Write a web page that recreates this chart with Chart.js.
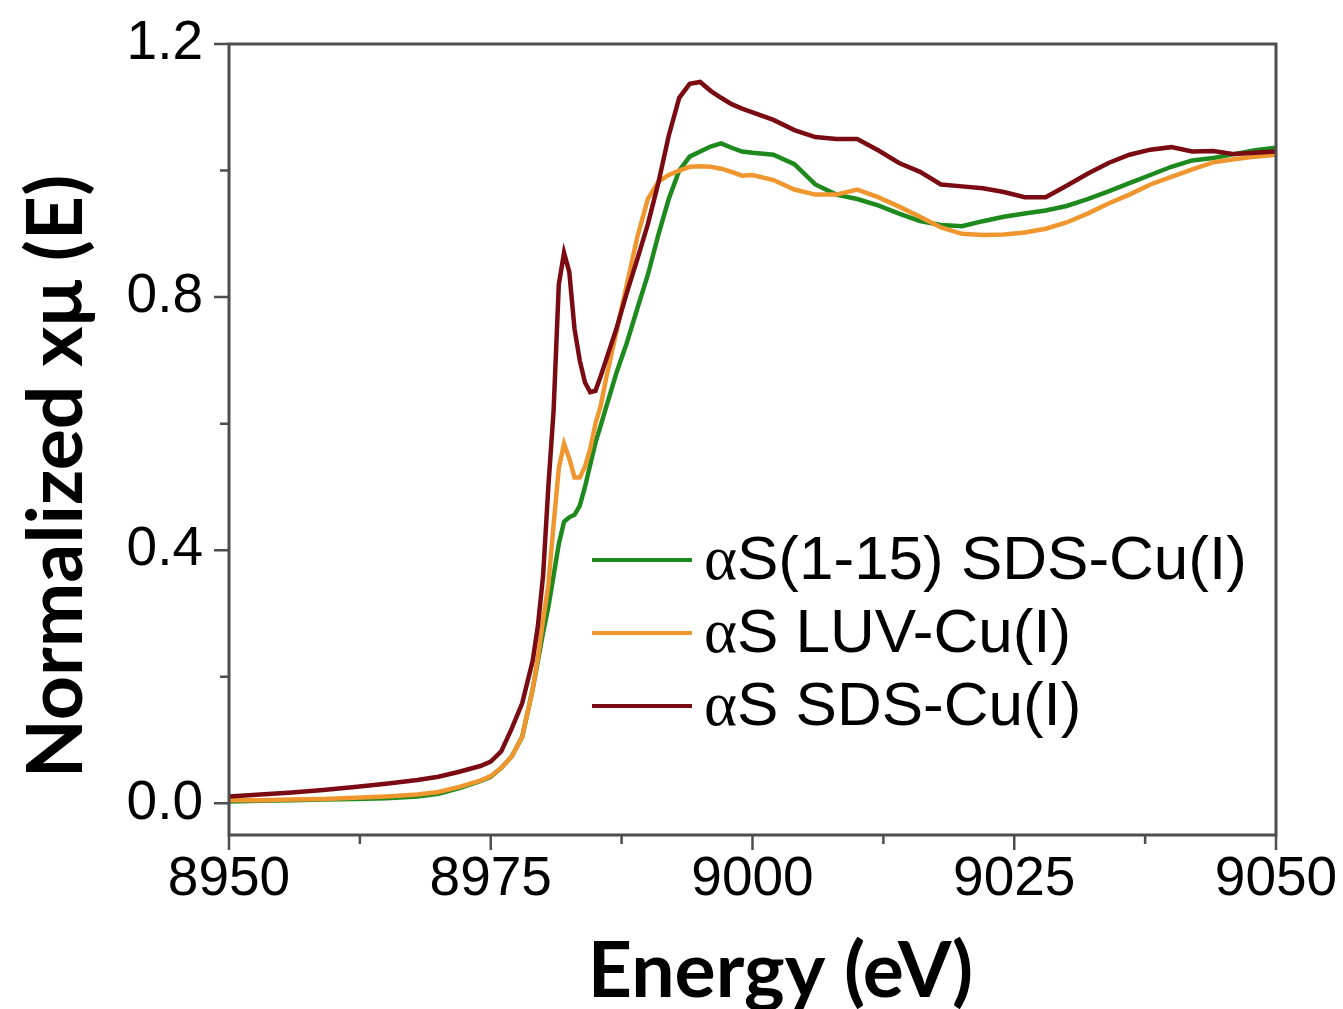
<!DOCTYPE html>
<html>
<head>
<meta charset="utf-8">
<script src="https://cdn.jsdelivr.net/npm/chart.js@4.4.1/dist/chart.umd.min.js"></script>
<style>
  html, body { margin: 0; padding: 0; background: #fff; }
  #wrap { width: 1343px; height: 1009px; }
</style>
</head>
<body>
<div id="wrap"><canvas id="xas"></canvas></div>
<script>
/* =========================
   Data
========================= */

const energy = [
  8950, 8953, 8956, 8959, 8962, 8965, 8968, 8970, 8972, 8974, 8975, 8976, 8977, 8978,
  8979, 8979.5, 8980, 8980.5, 8981, 8981.5, 8982, 8982.5, 8983, 8983.5, 8984, 8984.5,
  8985, 8985.5, 8986, 8987, 8988, 8989, 8990, 8991, 8992, 8993, 8994, 8995, 8996, 8997,
  8998, 8999, 9000, 9002, 9004, 9006, 9008, 9010, 9012, 9014, 9016, 9018, 9020, 9022,
  9024, 9026, 9028, 9030, 9032, 9034, 9036, 9038, 9040, 9042, 9044, 9046, 9048, 9050
];

const sds115 = [
  0.003, 0.004, 0.005, 0.006, 0.007, 0.008, 0.011, 0.015, 0.024, 0.035, 0.042, 0.056, 0.074, 0.105,
  0.180, 0.225, 0.270, 0.310, 0.360, 0.410, 0.445, 0.452, 0.456, 0.470, 0.500, 0.535,
  0.570, 0.597, 0.625, 0.680, 0.728, 0.782, 0.835, 0.898, 0.955, 1.000, 1.022, 1.030, 1.038, 1.043,
  1.036, 1.030, 1.028, 1.025, 1.010, 0.978, 0.962, 0.955, 0.945, 0.932, 0.920, 0.914, 0.912, 0.920,
  0.927, 0.932, 0.937, 0.944, 0.955, 0.967, 0.980, 0.993, 1.006, 1.016, 1.020, 1.026, 1.032, 1.036
];

const luv = [
  0.005, 0.005, 0.006, 0.007, 0.009, 0.011, 0.014, 0.018, 0.026, 0.036, 0.043, 0.056, 0.074, 0.105,
  0.180, 0.230, 0.290, 0.345, 0.440, 0.530, 0.568, 0.545, 0.515, 0.515, 0.532, 0.560,
  0.600, 0.628, 0.670, 0.745, 0.820, 0.895, 0.955, 0.982, 0.993, 1.000, 1.006, 1.007, 1.006, 1.003,
  0.998, 0.992, 0.993, 0.985, 0.970, 0.962, 0.962, 0.970, 0.958, 0.943, 0.927, 0.910, 0.900, 0.898,
  0.899, 0.902, 0.908, 0.918, 0.932, 0.948, 0.962, 0.978, 0.990, 1.002, 1.013, 1.018, 1.022, 1.025
];

const sds = [
  0.011, 0.014, 0.017, 0.021, 0.026, 0.031, 0.037, 0.042, 0.050, 0.059, 0.066, 0.082, 0.118, 0.158,
  0.225, 0.280, 0.360, 0.500, 0.620, 0.820, 0.870, 0.840, 0.750, 0.700, 0.665, 0.650,
  0.652, 0.675, 0.700, 0.750, 0.807, 0.860, 0.915, 0.980, 1.055, 1.115, 1.137, 1.140, 1.126, 1.115,
  1.105, 1.098, 1.092, 1.080, 1.064, 1.053, 1.050, 1.050, 1.032, 1.012, 0.998, 0.978, 0.975, 0.972,
  0.966, 0.958, 0.958, 0.976, 0.995, 1.012, 1.025, 1.033, 1.037, 1.030, 1.031, 1.026, 1.028, 1.030
];

const seriesNames = ["\u03B1S(1-15) SDS-Cu(I)", "\u03B1S LUV-Cu(I)", "\u03B1S SDS-Cu(I)"];
const seriesColors = ["#1e8a1e", "#f0962e", "#7a0b12"];

const xTicks = [8950, 8975, 9000, 9025, 9050];
const xMinor = [8962.5, 8987.5, 9012.5, 9037.5];
const yTicks = [0, 0.4, 0.8, 1.2];
const yMinor = [0.2, 0.6, 1.0];

/* =========================
   Helpers
========================= */

function points(values) {
  return energy.map((e, i) => ({ x: e, y: values[i] }));
}

const AXIS_COLOR = "#4d4d4d";

// frame, outward ticks, titles and legend
const decorPlugin = {
  id: "decor",
  afterDraw(chart) {
    const { ctx, chartArea: a, scales } = chart;
    const xs = scales.x, ys = scales.y;

    ctx.save();
    ctx.strokeStyle = AXIS_COLOR;
    ctx.lineWidth = 3;
    ctx.strokeRect(a.left, a.top, a.right - a.left, a.bottom - a.top);

    ctx.lineWidth = 2.5;
    ctx.beginPath();
    xTicks.forEach(v => { const p = xs.getPixelForValue(v); ctx.moveTo(p, a.bottom); ctx.lineTo(p, a.bottom + 15); });
    xMinor.forEach(v => { const p = xs.getPixelForValue(v); ctx.moveTo(p, a.bottom); ctx.lineTo(p, a.bottom + 9); });
    yTicks.forEach(v => { const p = ys.getPixelForValue(v); ctx.moveTo(a.left, p); ctx.lineTo(a.left - 15, p); });
    yMinor.forEach(v => { const p = ys.getPixelForValue(v); ctx.moveTo(a.left, p); ctx.lineTo(a.left - 9, p); });
    ctx.stroke();

    // axis titles
    ctx.fillStyle = "#000";
    ctx.font = "bold 77px Lato";
    ctx.textAlign = "center";
    ctx.textBaseline = "alphabetic";
    ctx.fillText("Energy (eV)", (a.left + a.right) / 2 + 28, 997);

    ctx.save();
    ctx.translate(82, (a.top + a.bottom) / 2 + 37);
    ctx.rotate(-Math.PI / 2);
    ctx.fillText("Normalized x\u03BC (E)", 0, 0);
    ctx.restore();

    // legend
    const lx = a.left + 363;
    seriesNames.forEach((name, i) => {
      const ly = a.top + 516 + i * 73;
      ctx.strokeStyle = seriesColors[i];
      ctx.lineWidth = 4;
      ctx.beginPath();
      ctx.moveTo(lx, ly);
      ctx.lineTo(lx + 100, ly);
      ctx.stroke();

      ctx.fillStyle = "#000";
      ctx.textAlign = "left";
      ctx.textBaseline = "middle";
      ctx.font = "63px 'Liberation Serif'";
      const alpha = name[0];
      ctx.fillText(alpha, lx + 112, ly + 2);
      const w = ctx.measureText(alpha).width;
      ctx.font = "62px 'Liberation Sans'";
      ctx.fillText(name.slice(1), lx + 112 + w, ly + 2);
    });

    ctx.restore();
  }
};

/* =========================
   Chart
========================= */

const tickFont = { family: "'Liberation Sans', Arial, sans-serif", size: 55 };

new Chart(document.getElementById("xas"), {
  type: "line",
  data: {
    datasets: [
      { label: seriesNames[2], data: points(sds), borderColor: seriesColors[2], order: 0 },
      { label: seriesNames[1], data: points(luv), borderColor: seriesColors[1], order: 1 },
      { label: seriesNames[0], data: points(sds115), borderColor: seriesColors[0], order: 2 }
    ].map(d => Object.assign(d, { borderWidth: 4.5, pointRadius: 0, tension: 0, fill: false }))
  },
  options: {
    responsive: true,
    maintainAspectRatio: false,
    animation: false,
    layout: { padding: { top: 44, right: 67, left: 0, bottom: 0 } },
    plugins: { legend: { display: false }, tooltip: { enabled: false } },
    scales: {
      x: {
        type: "linear",
        min: 8950,
        max: 9050,
        afterBuildTicks: s => { s.ticks = xTicks.map(v => ({ value: v })); },
        afterFit: s => { s.height = 174; s.paddingLeft = 0; s.paddingRight = 0; },
        grid: { display: false, drawTicks: false },
        border: { display: false },
        ticks: { font: tickFont, color: "#000", padding: 12, maxRotation: 0, autoSkip: false, callback: v => String(v) }
      },
      y: {
        type: "linear",
        min: -0.05,
        max: 1.2,
        afterBuildTicks: s => { s.ticks = yTicks.map(v => ({ value: v })); },
        afterFit: s => { s.width = 229; s.paddingTop = 0; s.paddingBottom = 0; },
        grid: { display: false, drawTicks: false },
        border: { display: false },
        ticks: { font: tickFont, color: "#000", padding: 26, autoSkip: false, callback: v => v.toFixed(1) }
      }
    }
  },
  plugins: [decorPlugin]
});
</script>
</body>
</html>
